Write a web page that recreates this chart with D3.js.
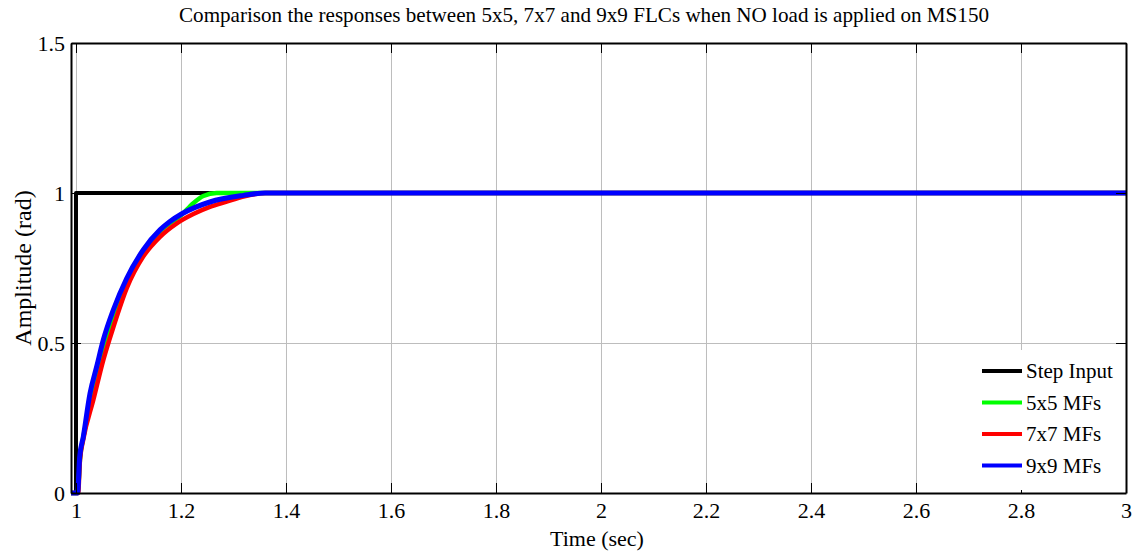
<!DOCTYPE html>
<html>
<head>
<meta charset="utf-8">
<script src="https://cdn.jsdelivr.net/npm/d3@7"></script>
<style>
  body { margin: 0; background: #fff; }
  text { font-family: 'Liberation Serif', 'Times New Roman', serif; fill: #000; }
</style>
</head>
<body>
<div id="chart"></div>
<script>
let width = 1143;
let height = 555;

// data
let xTicks = [1, 1.2, 1.4, 1.6, 1.8, 2, 2.2, 2.4, 2.6, 2.8, 3];
let yTicks = [0, 0.5, 1, 1.5];

let stepT = [0.9905, 1.0, 1.0, 3.0];
let stepV = [0, 0, 1, 1];

let t5 = [0.9905, 1.003, 1.008, 1.014, 1.033, 1.052, 1.071, 1.0965, 1.128, 1.16, 1.201, 1.2235, 1.2425, 1.268, 1.3, 3.0];
let v5 = [0, 0, 0.12, 0.186, 0.333, 0.477, 0.588, 0.704, 0.8, 0.872, 0.927, 0.966, 0.99, 1.0, 1.0, 1.0];

let t7 = [0.9905, 1.004, 1.0076, 1.014, 1.033, 1.052, 1.0714, 1.0965, 1.128, 1.16, 1.192, 1.2235, 1.255, 1.287, 1.319, 1.362, 3.0];
let v7 = [0, 0, 0.11, 0.18, 0.31, 0.443, 0.554, 0.682, 0.788, 0.854, 0.899, 0.93, 0.954, 0.971, 0.988, 1.0, 1.0];

let t9 = [0.9905, 1.003, 1.007, 1.014, 1.0267, 1.0394, 1.052, 1.071, 1.0965, 1.128, 1.16, 1.179, 1.201, 1.255, 1.319, 1.36, 3.0];
let v9 = [0, 0, 0.12, 0.188, 0.332, 0.421, 0.51, 0.61, 0.715, 0.81, 0.877, 0.905, 0.93, 0.97, 0.992, 1.0, 1.0];

let seriesNames = ['Step Input', '5x5 MFs', '7x7 MFs', '9x9 MFs'];
let seriesColors = ['#000000', '#00ff00', '#ff0000', '#0000ff'];

let series = [
  { name: seriesNames[0], color: seriesColors[0], t: stepT, v: stepV, w: 4 },
  { name: seriesNames[1], color: seriesColors[1], t: t5, v: v5, w: 4.5 },
  { name: seriesNames[2], color: seriesColors[2], t: t7, v: v7, w: 4.5 },
  { name: seriesNames[3], color: seriesColors[3], t: t9, v: v9, w: 5 }
];

let plotLeft = 71, plotRight = 1126, plotTop = 43, plotBottom = 493;

let svg = d3.select('#chart')
  .append('svg')
  .attr('width', width)
  .attr('height', height);

svg.append('rect').attr('width', width).attr('height', height).attr('fill', '#fff');

let x = d3.scaleLinear().domain([0.9905, 3]).range([plotLeft, plotRight]);
let y = d3.scaleLinear().domain([0, 1.5]).range([plotBottom, plotTop]);

// grid
svg.append('g')
  .attr('class', 'grid')
  .attr('transform', 'translate(0,' + plotBottom + ')')
  .call(d3.axisBottom(x).tickValues(xTicks).tickSize(-(plotBottom - plotTop)).tickFormat(''))
  .call(g => g.select('.domain').remove())
  .selectAll('line').attr('stroke', '#bdbdbd').attr('stroke-width', 1);

svg.append('g')
  .attr('class', 'grid')
  .attr('transform', 'translate(' + plotLeft + ',0)')
  .call(d3.axisLeft(y).tickValues(yTicks).tickSize(-(plotRight - plotLeft)).tickFormat(''))
  .call(g => g.select('.domain').remove())
  .selectAll('line').attr('stroke', '#bdbdbd').attr('stroke-width', 1);

// lines
let line = d3.line()
  .x(function(d) { return x(d[0]); })
  .y(function(d) { return y(d[1]); })
  .curve(d3.curveMonotoneX);

let stepLine = d3.line()
  .x(function(d) { return x(d[0]); })
  .y(function(d) { return y(d[1]); });

series.forEach(function(s, i) {
  let pts = s.t.map(function(t, j) { return [t, s.v[j]]; });
  svg.append('path')
    .datum(pts)
    .attr('fill', 'none')
    .attr('stroke', s.color)
    .attr('stroke-width', s.w)
    .attr('stroke-linejoin', 'round')
    .attr('d', i === 0 ? stepLine : line);
});

// axes with inward ticks
let fontSize = '22px';

let xAxis = svg.append('g')
  .attr('class', 'axis')
  .attr('transform', 'translate(0,' + plotBottom + ')')
  .call(d3.axisBottom(x).tickValues(xTicks).tickSizeInner(-10).tickSizeOuter(0).tickPadding(9).tickFormat(d3.format('')));
xAxis.selectAll('text').style('font-size', fontSize);

svg.append('g')
  .attr('class', 'axis')
  .attr('transform', 'translate(0,' + plotTop + ')')
  .call(d3.axisTop(x).tickValues(xTicks).tickSizeInner(-10).tickSizeOuter(0).tickFormat(''));

let yAxis = svg.append('g')
  .attr('class', 'axis')
  .attr('transform', 'translate(' + plotLeft + ',0)')
  .call(d3.axisLeft(y).tickValues(yTicks).tickSizeInner(-10).tickSizeOuter(0).tickPadding(6).tickFormat(d3.format('')));
yAxis.selectAll('text').style('font-size', fontSize);

svg.append('g')
  .attr('class', 'axis')
  .attr('transform', 'translate(' + plotRight + ',0)')
  .call(d3.axisRight(y).tickValues(yTicks).tickSizeInner(-10).tickSizeOuter(0).tickFormat(''));

svg.selectAll('.axis .domain').attr('stroke', '#000').attr('stroke-width', 2);
svg.selectAll('.axis .tick line').attr('stroke', '#000');

// legend
let legend = svg.append('g').attr('class', 'legend');
legend.append('rect')
  .attr('x', 972).attr('y', 350)
  .attr('width', 153).attr('height', 140)
  .attr('fill', '#fff');

series.forEach(function(s, i) {
  let ly = 371 + i * 31.5;
  legend.append('line')
    .attr('x1', 982).attr('x2', 1022)
    .attr('y1', ly).attr('y2', ly)
    .attr('stroke', s.color).attr('stroke-width', 4);
  legend.append('text')
    .attr('x', 1026).attr('y', ly)
    .attr('dy', '0.35em')
    .style('font-size', '21px')
    .text(s.name);
});

// titles
svg.append('text')
  .attr('x', 179).attr('y', 22)
  .attr('textLength', 810).attr('lengthAdjust', 'spacingAndGlyphs')
  .style('font-size', '21px')
  .text('Comparison the responses between 5x5, 7x7 and 9x9 FLCs when NO load is applied on MS150');

svg.append('text')
  .attr('x', 597).attr('y', 546)
  .attr('text-anchor', 'middle')
  .style('font-size', '22px')
  .text('Time (sec)');

svg.append('text')
  .attr('transform', 'translate(31,268) rotate(-90)')
  .attr('text-anchor', 'middle')
  .style('font-size', '24px')
  .text('Amplitude (rad)');
</script>
</body>
</html>
